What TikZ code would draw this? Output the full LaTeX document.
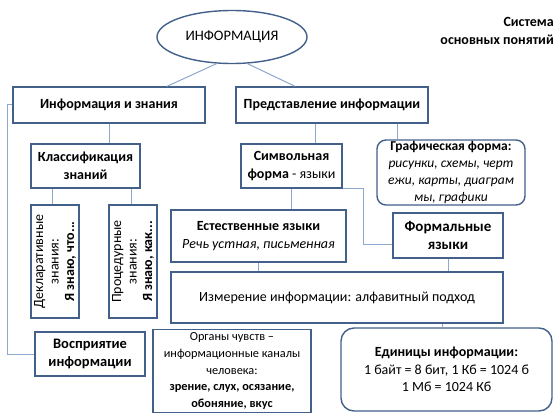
\documentclass[tikz,border=0pt]{standalone}
\usepackage{fontspec}
\setmainfont{Carlito}
\usetikzlibrary{shapes.geometric}
\definecolor{boxc}{RGB}{66,96,138}
\definecolor{linec}{RGB}{140,168,204}
\tikzset{
  bx/.style={draw=boxc, line width=1.4pt, fill=white, inner sep=1pt, align=center, font=\fontsize{14}{17.5}\selectfont},
  rbx/.style={bx, rounded corners=9pt},
  conn/.style={draw=linec, line width=1pt},
}
\begin{document}
\begin{tikzpicture}[x=1pt,y=-1pt]
\useasboundingbox (0,0) rectangle (560,420);
\node[ellipse, draw=boxc, line width=1.4pt, minimum width=150pt, minimum height=53pt, inner sep=0pt, font=\fontsize{14.5}{16}\selectfont] (ell) at (232,37) {ИНФОРМАЦИЯ};
\node[align=right, anchor=north east, inner sep=0pt, font=\bfseries\fontsize{14}{18}\selectfont] (title) at (554,17) {Система\\основных понятий};

\node[bx, minimum width=192pt, minimum height=36pt, font=\fontsize{14}{18}\selectfont] (iz) at (109,105) {\bfseries Информация и знания};
\node[bx, minimum width=192pt, minimum height=36pt, font=\fontsize{14}{18}\selectfont] (pr) at (332,105) {\bfseries Представление информации};
\node[bx, minimum width=109pt, minimum height=44pt] (kl) at (85.5,166) {\bfseries Классификация\\\bfseries знаний};
\node[bx, minimum width=101pt, minimum height=44pt] (sym) at (291.5,166) {\bfseries Символьная\\\textbf{форма} - языки};
\node[rbx, minimum width=148pt, minimum height=65pt, font=\fontsize{13.5}{17}\selectfont] (gr) at (451,172.5) {\textbf{Графическая форма:}\\\itshape рисунки, схемы, черт\\\itshape ежи, карты, диаграм\\\itshape мы, графики};
\node[bx, minimum width=113pt, minimum height=48pt, rotate=90, font=\fontsize{14}{15.5}\selectfont] (dec) at (55,261.5) {Декларативные\\знания:\\\textbf{Я знаю, что...}};
\node[bx, minimum width=113pt, minimum height=48pt, rotate=90, font=\fontsize{14}{15.5}\selectfont] (proc) at (133,261.5) {Процедурные\\знания:\\\textbf{Я знаю, как...}};
\node[bx, minimum width=175pt, minimum height=52pt] (est) at (258.5,236) {\bfseries Естественные языки\\\itshape Речь устная, письменная};
\node[bx, minimum width=110pt, minimum height=45pt, font=\fontsize{15}{18}\selectfont] (form) at (448,235.5) {\bfseries Формальные\\\bfseries языки};
\node[bx, minimum width=332pt, minimum height=51pt, font=\fontsize{14}{17}\selectfont] (izm) at (337,297.5) {Измерение информации: алфавитный подход};
\node[bx, minimum width=110pt, minimum height=44pt, font=\fontsize{14.5}{18}\selectfont] (vos) at (90,354) {\bfseries Восприятие\\\bfseries информации};
\node[bx, minimum width=158pt, minimum height=83pt, font=\fontsize{12.3}{16.8}\selectfont] (org) at (232,371) {Органы чувств –\\информационные каналы\\человека:\\\textbf{зрение, слух, осязание,}\\\textbf{обоняние, вкус}};
\node[bx, rounded corners=13pt, minimum width=211pt, minimum height=83pt, font=\fontsize{14}{17.5}\selectfont] (ed) at (446.5,369.5) {\textbf{Единицы информации:}\\1 байт = 8 бит, 1 Кб = 1024 б\\1 Мб = 1024 Кб};

\draw[conn] (ell.240) -- ([xshift=58pt]iz.north);
\draw[conn] (ell.300) -- ([xshift=-37pt]pr.north);
\draw[conn] (iz.south) -- (iz.south |- kl.north);
\draw[conn] ([xshift=-3pt]dec.east |- kl.south) -- ([xshift=-3pt]dec.east);
\draw[conn] ([xshift=-2pt]proc.east |- kl.south) -- ([xshift=-2pt]proc.east);
\draw[conn] ([xshift=-17pt]pr.south) -- ([xshift=23.5pt]sym.north);
\draw[conn] ([xshift=65pt]pr.south) -- ([xshift=-54pt]gr.north);
\draw[conn] (sym.south) -- (sym.south |- est.north);
\draw[conn] (sym.south east) -- ++(21,0) |- ([yshift=-8.5pt]form.west);
\draw[conn] (est.south) -- (est.south |- izm.north);
\draw[conn] (form.south) -- (form.south |- izm.north);
\draw[conn] ([xshift=-4.5pt]ed.north) -- ([xshift=-4.5pt]ed.north |- izm.south);
\draw[conn] (iz.west) -- ++(-5,0) |- (vos.west);
\end{tikzpicture}
\end{document}
